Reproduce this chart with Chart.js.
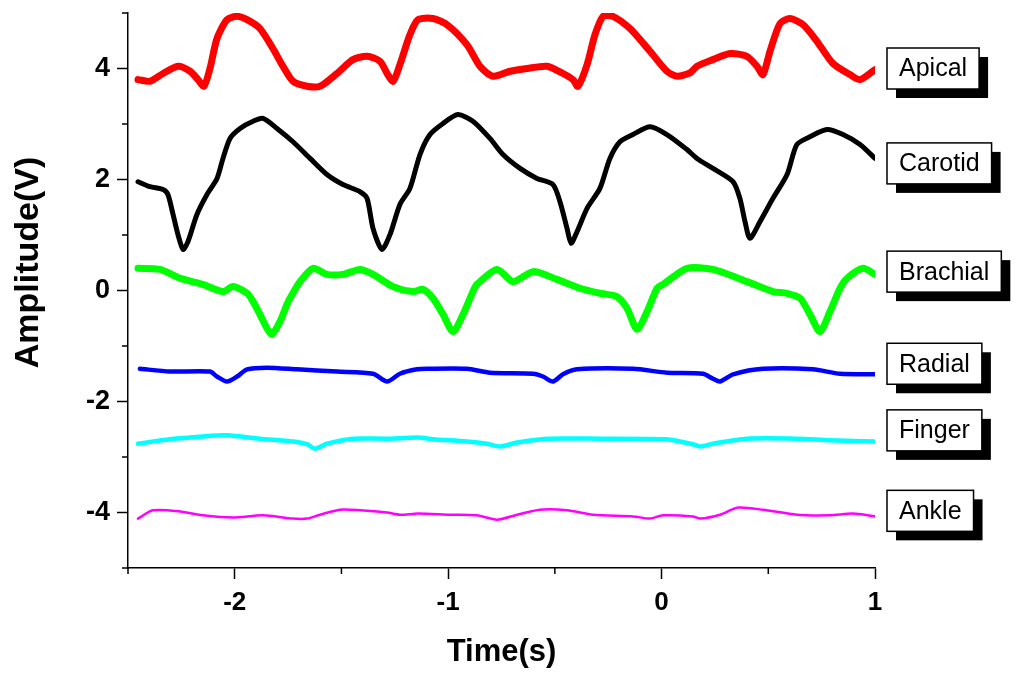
<!DOCTYPE html>
<html><head><meta charset="utf-8">
<script src="https://cdn.jsdelivr.net/npm/chart.js@4.4.0/dist/chart.umd.min.js"></script>
<style>html,body{margin:0;padding:0;background:#fff;}canvas{display:block;}</style>
</head><body>
<canvas id="c" width="1024" height="682"></canvas>
<script>
// ---- data (time in s, amplitude in V) ----
const apical = [[-2.453,3.80],[-2.397,3.77],[-2.336,3.91],[-2.266,4.04],[-2.209,3.95],[-2.172,3.80],[-2.144,3.68],[-2.116,4.00],[-2.083,4.54],[-2.036,4.88],[-1.989,4.94],[-1.942,4.88],[-1.882,4.72],[-1.821,4.36],[-1.774,4.04],[-1.727,3.77],[-1.661,3.68],[-1.600,3.68],[-1.521,3.91],[-1.446,4.16],[-1.380,4.22],[-1.319,4.13],[-1.286,3.91],[-1.258,3.77],[-1.226,4.07],[-1.179,4.61],[-1.141,4.88],[-1.071,4.90],[-1.005,4.79],[-0.912,4.43],[-0.851,4.04],[-0.790,3.86],[-0.710,3.95],[-0.630,4.00],[-0.537,4.04],[-0.462,3.91],[-0.415,3.80],[-0.392,3.68],[-0.349,4.07],[-0.312,4.61],[-0.274,4.94],[-0.228,4.94],[-0.148,4.72],[-0.054,4.31],[0.025,3.95],[0.072,3.86],[0.133,3.92],[0.166,4.04],[0.241,4.16],[0.321,4.27],[0.400,4.22],[0.447,4.04],[0.475,3.89],[0.508,4.31],[0.555,4.81],[0.602,4.90],[0.663,4.79],[0.728,4.49],[0.803,4.09],[0.883,3.89],[0.930,3.80],[1.000,3.98]];
const carotid = [[-2.453,1.96],[-2.397,1.87],[-2.336,1.82],[-2.313,1.73],[-2.289,1.37],[-2.266,1.01],[-2.242,0.74],[-2.219,0.88],[-2.177,1.37],[-2.130,1.73],[-2.083,2.02],[-2.055,2.38],[-2.022,2.74],[-1.975,2.92],[-1.914,3.05],[-1.867,3.10],[-1.802,2.92],[-1.727,2.68],[-1.647,2.38],[-1.568,2.09],[-1.493,1.91],[-1.413,1.78],[-1.380,1.66],[-1.352,1.12],[-1.310,0.74],[-1.272,1.01],[-1.226,1.55],[-1.179,1.84],[-1.132,2.45],[-1.085,2.81],[-1.024,3.01],[-0.954,3.17],[-0.884,3.05],[-0.804,2.74],[-0.743,2.45],[-0.663,2.20],[-0.584,2.02],[-0.509,1.91],[-0.476,1.60],[-0.443,1.12],[-0.424,0.85],[-0.396,1.06],[-0.349,1.48],[-0.289,1.84],[-0.242,2.38],[-0.195,2.68],[-0.134,2.81],[-0.054,2.95],[0.025,2.81],[0.119,2.54],[0.166,2.38],[0.241,2.20],[0.335,1.96],[0.367,1.66],[0.391,1.24],[0.414,0.94],[0.461,1.24],[0.522,1.66],[0.588,2.09],[0.634,2.63],[0.695,2.77],[0.775,2.90],[0.850,2.81],[0.930,2.63],[1.000,2.38]];
const brachial = [[-2.453,0.40],[-2.350,0.38],[-2.256,0.22],[-2.149,0.11],[-2.055,-0.02],[-2.008,0.07],[-1.942,-0.05],[-1.914,-0.20],[-1.882,-0.43],[-1.849,-0.68],[-1.825,-0.79],[-1.788,-0.56],[-1.755,-0.25],[-1.741,-0.14],[-1.694,0.16],[-1.633,0.40],[-1.568,0.29],[-1.493,0.29],[-1.413,0.38],[-1.352,0.29],[-1.258,0.07],[-1.165,-0.02],[-1.118,0.02],[-1.071,-0.14],[-1.024,-0.43],[-0.977,-0.74],[-0.930,-0.43],[-0.884,-0.02],[-0.865,0.11],[-0.771,0.38],[-0.696,0.16],[-0.602,0.34],[-0.490,0.20],[-0.382,0.04],[-0.289,-0.05],[-0.209,-0.11],[-0.162,-0.32],[-0.115,-0.70],[-0.068,-0.38],[-0.021,0.04],[0.007,0.11],[0.119,0.40],[0.241,0.38],[0.400,0.16],[0.522,-0.02],[0.588,-0.05],[0.649,-0.14],[0.695,-0.43],[0.742,-0.74],[0.789,-0.38],[0.836,0.04],[0.869,0.22],[0.944,0.40],[1.000,0.29]];
const radial = [[-2.444,-1.41],[-2.303,-1.46],[-2.116,-1.46],[-2.083,-1.55],[-2.036,-1.64],[-1.989,-1.55],[-1.942,-1.42],[-1.849,-1.39],[-1.708,-1.42],[-1.521,-1.46],[-1.352,-1.50],[-1.286,-1.64],[-1.226,-1.50],[-1.146,-1.42],[-1.099,-1.41],[-0.912,-1.41],[-0.804,-1.48],[-0.602,-1.50],[-0.556,-1.55],[-0.509,-1.64],[-0.462,-1.51],[-0.396,-1.42],[-0.134,-1.41],[0.025,-1.48],[0.194,-1.50],[0.241,-1.59],[0.274,-1.64],[0.335,-1.51],[0.475,-1.41],[0.709,-1.42],[0.836,-1.50],[1.000,-1.51]];
const finger = [[-2.453,-2.76],[-2.303,-2.68],[-2.149,-2.63],[-2.036,-2.61],[-1.882,-2.67],[-1.727,-2.72],[-1.661,-2.77],[-1.624,-2.85],[-1.568,-2.76],[-1.446,-2.67],[-1.286,-2.67],[-1.141,-2.65],[-1.071,-2.68],[-0.912,-2.72],[-0.818,-2.76],[-0.757,-2.81],[-0.677,-2.74],[-0.537,-2.67],[-0.289,-2.67],[0.025,-2.68],[0.086,-2.72],[0.147,-2.77],[0.180,-2.81],[0.241,-2.76],[0.400,-2.67],[0.634,-2.67],[0.789,-2.70],[1.000,-2.72]];
const ankle = [[-2.453,-4.11],[-2.383,-3.96],[-2.256,-3.98],[-2.149,-4.05],[-2.008,-4.09],[-1.867,-4.05],[-1.727,-4.11],[-1.661,-4.11],[-1.600,-4.04],[-1.507,-3.95],[-1.413,-3.96],[-1.286,-4.00],[-1.226,-4.04],[-1.141,-4.02],[-0.991,-4.04],[-0.865,-4.05],[-0.771,-4.13],[-0.677,-4.04],[-0.570,-3.95],[-0.443,-3.96],[-0.321,-4.04],[-0.134,-4.07],[-0.054,-4.11],[0.007,-4.05],[0.147,-4.07],[0.180,-4.11],[0.274,-4.04],[0.358,-3.91],[0.475,-3.95],[0.634,-4.04],[0.789,-4.05],[0.897,-4.02],[1.000,-4.07]];

const seriesNames = ['Apical','Carotid','Brachial','Radial','Finger','Ankle'];
const labelY = [4.0, 2.29, 0.34, -1.32, -2.52, -3.97];
const xTicks = [-2, -1, 0, 1];
const xMinor = [-2.5, -1.5, -0.5, 0.5];
const yTicks = [-4, -2, 0, 2, 4];
const yMinor = [-5, -3, -1, 1, 3, 5];
const xTitle = 'Time(s)';
const yTitle = 'Amplitude(V)';

// ---- styles ----
const FONT = "'Liberation Sans', Arial, sans-serif";
const colors = ['#ff0000','#000000','#00ff00','#0000ff','#00ffff','#ff00ff'];
const widths = [7, 5, 7, 4.5, 4.5, 2.5];
const series = [apical, carotid, brachial, radial, finger, ankle];

const extrasPlugin = {
  id: 'extras',
  afterDraw(chart) {
    const {ctx, chartArea, scales: {x, y}} = chart;
    ctx.save();
    ctx.strokeStyle = '#000';
    ctx.lineWidth = 1.5;
    yMinor.forEach(v => {
      const py = y.getPixelForValue(v);
      ctx.beginPath(); ctx.moveTo(chartArea.left - 6, py); ctx.lineTo(chartArea.left, py); ctx.stroke();
    });
    xMinor.forEach(v => {
      const px = x.getPixelForValue(v);
      ctx.beginPath(); ctx.moveTo(px, chartArea.bottom); ctx.lineTo(px, chartArea.bottom + 6); ctx.stroke();
    });
    // y axis title (sits a little above the axis centre in the original)
    ctx.save();
    ctx.translate(29, (chartArea.top + chartArea.bottom) / 2 - 28);
    ctx.rotate(-Math.PI / 2);
    ctx.font = 'bold 34px ' + FONT;
    ctx.fillStyle = '#000';
    ctx.textAlign = 'center';
    ctx.textBaseline = 'middle';
    ctx.fillText(yTitle, 0, 0);
    ctx.restore();
    // label boxes with drop shadow
    ctx.font = '25px ' + FONT;
    ctx.textBaseline = 'middle';
    ctx.textAlign = 'left';
    seriesNames.forEach((name, i) => {
      const cy = y.getPixelForValue(labelY[i]);
      const tw = ctx.measureText(name).width;
      const w = tw + 24, h = 41;
      const left = chartArea.right + 12, top = cy - h / 2;
      ctx.fillStyle = '#000'; ctx.fillRect(left + 9, top + 9, w, h);
      ctx.fillStyle = '#fff'; ctx.fillRect(left, top, w, h);
      ctx.strokeStyle = '#000'; ctx.lineWidth = 1.5; ctx.strokeRect(left, top, w, h);
      ctx.fillStyle = '#000'; ctx.fillText(name, left + 12, cy + 1);
    });
    ctx.restore();
  }
};

new Chart(document.getElementById('c'), {
  type: 'line',
  data: {
    datasets: series.map((s, i) => ({
      label: seriesNames[i],
      data: s.map(([t, v]) => ({x: t, y: v})),
      borderColor: colors[i],
      borderWidth: widths[i],
      pointRadius: 0,
      fill: false,
      tension: 0.25
    }))
  },
  options: {
    responsive: false,
    animation: false,
    devicePixelRatio: 1,
    layout: {padding: {left: 0, right: 149, top: 13, bottom: 0}},
    plugins: {legend: {display: false}, tooltip: {enabled: false}},
    elements: {line: {borderJoinStyle: 'round', borderCapStyle: 'round'}},
    scales: {
      x: {
        type: 'linear', min: -2.5, max: 1,
        afterBuildTicks: s => { s.ticks = xTicks.map(v => ({value: v})); },
        afterFit: s => { s.height = 114; s.paddingLeft = 0; s.paddingRight = 0; },
        grid: {display: true, drawOnChartArea: false, drawTicks: true, tickLength: 11, tickColor: '#000', tickWidth: 1.5},
        border: {display: true, color: '#000', width: 1.5},
        ticks: {color: '#000', padding: 8, autoSkip: false, maxRotation: 0, font: {family: FONT, size: 26, weight: 'bold'}},
        title: {display: true, text: xTitle, color: '#000', font: {family: FONT, size: 31, weight: 'bold'}, padding: {top: 0, bottom: 11}}
      },
      y: {
        type: 'linear', min: -5, max: 5,
        afterBuildTicks: s => { s.ticks = yTicks.map(v => ({value: v})); },
        afterFit: s => { s.width = 128; s.paddingTop = 0; s.paddingBottom = 0; },
        grid: {display: true, drawOnChartArea: false, drawTicks: true, tickLength: 11, tickColor: '#000', tickWidth: 1.5},
        border: {display: true, color: '#000', width: 1.5},
        ticks: {color: '#000', padding: 7, font: {family: FONT, size: 27, weight: 'bold'}},
        title: {display: false}
      }
    }
  },
  plugins: [extrasPlugin]
});
</script>
</body></html>
